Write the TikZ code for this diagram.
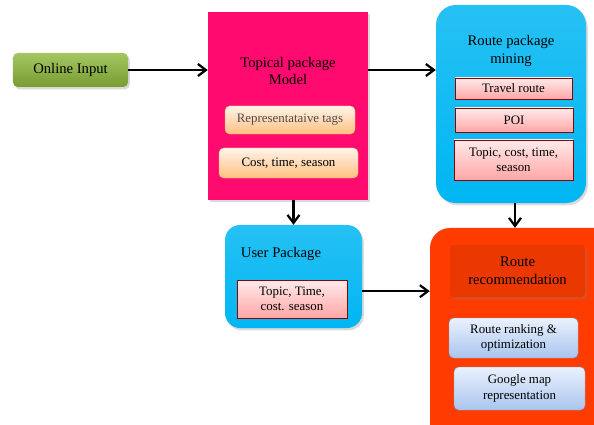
\documentclass[tikz,border=0pt]{standalone}
\usepackage{fontspec}
\setmainfont{Liberation Serif}
\usepackage{xcolor}
\usetikzlibrary{arrows.meta,positioning,shadows}
\definecolor{verdeEntrada}{HTML}{8DB83A}
\definecolor{rosaModelo}{HTML}{FF0A6E}
\definecolor{azulPacote}{HTML}{00B6F2}
\definecolor{laranjaRota}{HTML}{FF3C00}
\definecolor{azulClaro}{HTML}{EAF1FD}
\definecolor{azulMedio}{HTML}{A9C5EE}
\tikzset{
    sombra/.style={drop shadow={opacity=0.3, shadow xshift=1.5pt, shadow yshift=-2pt}},
    entrada/.style={
        rectangle,
        rounded corners=4pt,
        top color=verdeEntrada!80!white,
        bottom color=verdeEntrada!85!black,
        sombra,
        align=center,
        font=\fontsize{12.5}{14}\selectfont
    },
    painel/.style={rectangle, sombra, inner sep=0pt},
    titulo/.style={align=center, font=\fontsize{12.5}{15}\selectfont},
    itemLaranja/.style={
        rectangle,
        rounded corners=4pt,
        draw=orange!60,
        top color=orange!8,
        bottom color=orange!50,
        align=center,
        font=\fontsize{11}{13}\selectfont
    },
    itemRosa/.style={
        rectangle,
        draw=red!55!black,
        top color=red!8,
        bottom color=red!35,
        align=center,
        font=\fontsize{11}{13}\selectfont
    },
    itemAzul/.style={
        rectangle,
        rounded corners=4pt,
        draw=azulMedio!80!black,
        top color=azulClaro,
        bottom color=azulMedio,
        align=center,
        font=\fontsize{11}{13}\selectfont
    },
    fluxo/.style={-{Straight Barb[length=2.4mm,width=3.6mm]}, line width=1.9pt}
}

\begin{document}
\begin{tikzpicture}[x=0.03cm, y=-0.03cm]
    \useasboundingbox (0,0) rectangle (594,425);
    \clip (0,0) rectangle (594,425);

    % entrada
    \node[entrada, minimum width=3.45cm, minimum height=1.02cm] (entrada) at (70.5,70) {Online Input};

    % modelo de pacotes
    \node[painel, fill=rosaModelo, minimum width=4.8cm, minimum height=5.64cm] (modelo) at (288,106) {};
    \node[titulo] (tituloModelo) at (288,71) {Topical package\\Model};
    \node[itemLaranja, text=black!70, minimum width=3.9cm, minimum height=0.84cm] (tags) at (290,120) {Representataive tags};
    \node[itemLaranja, minimum width=4.17cm, minimum height=0.9cm] (custo) at (288.5,163) {Cost, time, season};

    % mineracao de rotas
    \node[painel, rounded corners=0.6cm, top color=azulPacote!85!white, bottom color=azulPacote, minimum width=4.5cm, minimum height=5.94cm] (mineracao) at (511,104) {};
    \node[titulo] (tituloMineracao) at (511,51) {Route package\\mining};
    \node[itemRosa, minimum width=3.51cm, minimum height=0.63cm] (rota) at (513.5,88.5) {Travel route};
    \node[itemRosa, minimum width=3.54cm, minimum height=0.72cm] (poi) at (514,120) {POI};
    \node[itemRosa, minimum width=3.57cm, minimum height=1.2cm] (topico) at (513.5,160) {Topic, cost, time,\\season};

    % pacote do usuario
    \node[painel, rounded corners=0.45cm, top color=azulPacote!85!white, bottom color=azulPacote, minimum width=4.11cm, minimum height=3.09cm] (usuario) at (293.5,276.5) {};
    \node[titulo] (tituloUsuario) at (281,254) {User Package};
    \node[itemRosa, minimum width=3.3cm, minimum height=1.14cm] (itemUsuario) at (292,299) {Topic, Time,\\cost. season};

    % recomendacao
    \node[painel, rounded corners=0.6cm, fill=laranjaRota, minimum width=5.7cm, minimum height=6.66cm] (recomendacao) at (525,339) {};
    \node[titulo, rectangle, rounded corners=3pt, fill=laranjaRota!92!black, sombra, minimum width=4.05cm, minimum height=1.56cm] (tituloRecomendacao) at (517.5,271) {Route\\recommendation};
    \node[itemAzul, minimum width=3.87cm, minimum height=1.2cm] (ranking) at (513.5,338) {Route ranking \&\\optimization};
    \node[itemAzul, minimum width=3.93cm, minimum height=1.29cm] (mapa) at (519.5,388.5) {Google map\\representation};

    \draw[fluxo] (entrada) -- (entrada -| modelo.west);
    \draw[fluxo] (modelo.east |- entrada) -- (mineracao.west |- entrada);
    \draw[fluxo] (modelo.south -| usuario.north) -- (usuario.north);
    \draw[fluxo] ([xshift=0.12cm]mineracao.south) -- ([xshift=0.12cm]mineracao.south |- recomendacao.north);
    \draw[fluxo] ([yshift=-0.44cm]usuario.east) -- ([yshift=-0.44cm]usuario.east -| recomendacao.west);
\end{tikzpicture}
\end{document}
